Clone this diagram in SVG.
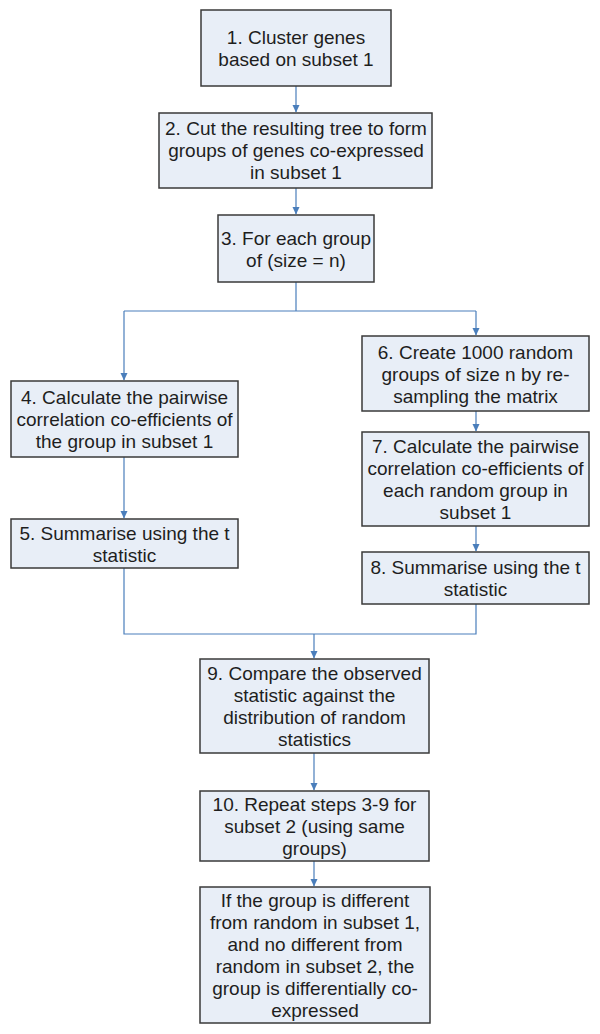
<svg xmlns="http://www.w3.org/2000/svg" width="600" height="1034" viewBox="0 0 600 1034">
<defs>
<marker id="arr" markerWidth="8" markerHeight="8" refX="7" refY="4" orient="auto" markerUnits="userSpaceOnUse">
<path d="M0,0.5 L7.5,4 L0,7.5 Z" fill="#4a7ebb"/>
</marker>
<style>
.box{fill:#e8eef7;stroke:#3a3a3a;stroke-width:1.5}
.t{font-family:"Liberation Sans",Arial,sans-serif;font-size:19px;fill:#1e1e1e;text-anchor:middle}
.c{fill:none;stroke:#4a7ebb;stroke-width:1.2}
.a{marker-end:url(#arr)}
</style>
</defs>
<rect width="600" height="1034" fill="#ffffff"/>
<g id="connectors">
<path class="c a" d="M296,86 V112"/>
<path class="c a" d="M296,188 V214"/>
<path class="c" d="M296,282 V311 M124,311 H476"/>
<path class="c a" d="M124,311 V380"/>
<path class="c a" d="M476,311 V335"/>
<path class="c a" d="M124,457 V518"/>
<path class="c a" d="M476,411 V431"/>
<path class="c a" d="M476,526 V551"/>
<path class="c" d="M124,568 V634 H476 V604"/>
<path class="c a" d="M314,634 V658"/>
<path class="c a" d="M314,753 V790"/>
<path class="c a" d="M314,861 V886"/>
</g>
<g id="n1"><rect class="box" x="201" y="10" width="190" height="76"/>
<text class="t" x="296" y="44">1. Cluster genes</text><text class="t" x="296" y="66">based on subset 1</text></g>
<g id="n2"><rect class="box" x="159" y="113" width="273" height="75"/>
<text class="t" x="296" y="135">2. Cut the resulting tree to form</text><text class="t" x="296" y="157">groups of genes co-expressed</text><text class="t" x="296" y="179">in subset 1</text></g>
<g id="n3"><rect class="box" x="218" y="215" width="156" height="67"/>
<text class="t" x="296" y="244.5">3. For each group</text><text class="t" x="296" y="266.5">of (size = n)</text></g>
<g id="n4"><rect class="box" x="11" y="381" width="227" height="76"/>
<text class="t" x="124.5" y="404">4. Calculate the pairwise</text><text class="t" x="124.5" y="426">correlation co-efficients of</text><text class="t" x="124.5" y="448">the group in subset 1</text></g>
<g id="n5"><rect class="box" x="11" y="519" width="227" height="49"/>
<text class="t" x="124.5" y="539.5">5. Summarise using the t</text><text class="t" x="124.5" y="561.5">statistic</text></g>
<g id="n6"><rect class="box" x="362" y="336" width="227" height="75"/>
<text class="t" x="475.5" y="358.5">6. Create 1000 random</text><text class="t" x="475.5" y="380.5">groups of size n by re-</text><text class="t" x="475.5" y="402.5">sampling the matrix</text></g>
<g id="n7"><rect class="box" x="362" y="432" width="227" height="94"/>
<text class="t" x="475.5" y="453">7. Calculate the pairwise</text><text class="t" x="475.5" y="475">correlation co-efficients of</text><text class="t" x="475.5" y="497">each random group in</text><text class="t" x="475.5" y="519">subset 1</text></g>
<g id="n8"><rect class="box" x="362" y="552" width="227" height="52"/>
<text class="t" x="475.5" y="574">8. Summarise using the t</text><text class="t" x="475.5" y="596">statistic</text></g>
<g id="n9"><rect class="box" x="200" y="659" width="229" height="94"/>
<text class="t" x="314.5" y="680">9. Compare the observed</text><text class="t" x="314.5" y="702">statistic against the</text><text class="t" x="314.5" y="724">distribution of random</text><text class="t" x="314.5" y="746">statistics</text></g>
<g id="n10"><rect class="box" x="200" y="791" width="229" height="70"/>
<text class="t" x="314.5" y="811">10. Repeat steps 3-9 for</text><text class="t" x="314.5" y="833">subset 2 (using same</text><text class="t" x="314.5" y="855">groups)</text></g>
<g id="n11"><rect class="box" x="200" y="887" width="230" height="136"/>
<text class="t" x="315" y="907">If the group is different</text><text class="t" x="315" y="929">from random in subset 1,</text><text class="t" x="315" y="951">and no different from</text><text class="t" x="315" y="973">random in subset 2, the</text><text class="t" x="315" y="995">group is differentially co-</text><text class="t" x="315" y="1017">expressed</text></g>
</svg>
